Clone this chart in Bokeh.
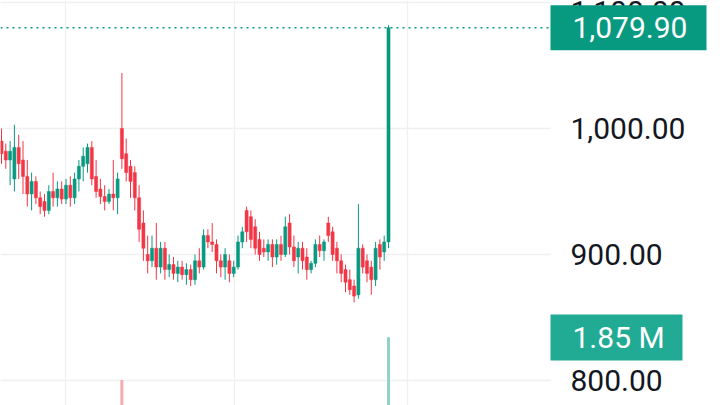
from bokeh.plotting import figure
from bokeh.models import Range1d, FixedTicker, NumeralTickFormatter, Span, BoxAnnotation
from bokeh.core.properties import value
from bokeh.embed import file_html
from bokeh.resources import INLINE

# ---- data ----
opens = [990, 982, 975, 960, 985, 975, 962, 948, 958, 945, 942, 935, 950, 945, 952, 944,
         955, 945, 960, 970, 972, 985, 962, 952, 946, 942, 948, 945, 1000, 980, 970, 965,
         945, 925, 900, 895, 905, 890, 905, 888, 892, 885, 890, 884, 888, 880, 895, 890,
         915, 910, 908, 895, 890, 895, 885, 890, 910, 935, 930, 922, 912, 905, 902, 908,
         898, 908, 900, 925, 906, 898, 905, 898, 888, 893, 908, 903, 925, 918, 905, 895,
         888, 880, 875, 868, 905, 895, 890, 880, 908, 902, 910]
highs = [1000, 988, 990, 1003, 995, 990, 975, 965, 962, 950, 948, 955, 965, 958, 958, 960,
         962, 965, 975, 985, 988, 990, 975, 960, 955, 952, 975, 965, 1044, 992, 975, 970,
         955, 935, 915, 915, 925, 910, 910, 900, 898, 895, 895, 893, 892, 900, 905, 920,
         920, 925, 912, 900, 905, 900, 895, 915, 922, 938, 935, 928, 918, 912, 912, 912,
         912, 915, 930, 932, 915, 910, 910, 905, 895, 912, 915, 912, 930, 922, 910, 900,
         892, 888, 880, 940, 908, 900, 895, 910, 912, 915, 1082]
lows = [972, 968, 955, 950, 960, 948, 938, 935, 940, 932, 930, 932, 938, 938, 940, 940,
        938, 940, 950, 958, 965, 955, 945, 940, 935, 940, 935, 932, 968, 958, 945, 935,
        910, 895, 885, 890, 880, 885, 880, 882, 880, 878, 880, 876, 875, 876, 885, 888,
        905, 902, 885, 882, 880, 878, 882, 888, 905, 910, 905, 900, 895, 898, 895, 890,
        892, 895, 898, 900, 890, 885, 888, 880, 885, 890, 898, 895, 910, 895, 885, 878,
        870, 868, 862, 865, 885, 878, 868, 875, 888, 895, 905]
closes = [980, 975, 982, 985, 972, 962, 948, 958, 945, 938, 935, 950, 945, 952, 944, 955,
          945, 960, 970, 978, 985, 960, 950, 946, 942, 948, 945, 960, 976, 965, 958, 945,
          920, 905, 895, 905, 890, 905, 888, 892, 885, 890, 884, 888, 880, 895, 890, 915,
          910, 908, 895, 890, 900, 885, 890, 910, 918, 918, 912, 905, 900, 902, 908, 898,
          908, 900, 922, 906, 895, 905, 895, 888, 893, 908, 903, 910, 915, 900, 895, 885,
          878, 872, 867, 905, 890, 885, 880, 905, 898, 910, 1079.9]
volumes = [0.42, 0.35, 0.38, 0.45, 0.30, 0.33, 0.36, 0.31, 0.28, 0.34, 0.30, 0.29, 0.32, 0.27, 0.25, 0.30,
           0.28, 0.33, 0.36, 0.40, 0.38, 0.35, 0.30, 0.26, 0.24, 0.22, 0.31, 0.29, 1.08, 0.55, 0.48, 0.41,
           0.52, 0.47, 0.40, 0.36, 0.38, 0.33, 0.30, 0.27, 0.25, 0.24, 0.26, 0.23, 0.25, 0.28, 0.27, 0.32,
           0.30, 0.29, 0.27, 0.26, 0.28, 0.25, 0.24, 0.31, 0.35, 0.45, 0.38, 0.33, 0.30, 0.27, 0.26, 0.28,
           0.25, 0.27, 0.36, 0.33, 0.29, 0.28, 0.27, 0.26, 0.25, 0.30, 0.27, 0.26, 0.32, 0.30, 0.28, 0.31,
           0.33, 0.35, 0.38, 0.52, 0.34, 0.30, 0.31, 0.33, 0.29, 0.32, 1.85]
price_ticks = [800, 900, 1000, 1100]
grid_x = [14.9, 54.2, 94.4]
last_price = 1079.9
last_price_text = "1,079.90"
last_volume = 1.85e6
last_volume_text = "1.85 M"

UP = "#089981"
DOWN = "#F23645"
UP_VOL = "#8fd1c5"
DOWN_VOL = "#f7a9ae"
VOL_TAG = "#22ab94"
LABEL_COL = "#131722"
GRID = "#eef0f3"

n = len(closes)
xs = list(range(n))
is_up = [c >= o for o, c in zip(opens, closes)]
colors = [UP if u else DOWN for u in is_up]
vcolors = [UP_VOL if u else DOWN_VOL for u in is_up]
tops = [max(o, c) for o, c in zip(opens, closes)]
bots = [min(o, c) for o, c in zip(opens, closes)]
vols = [v * 1e6 for v in volumes]

BAR_PX = 4.3                 # pixels per bar
X0 = -0.233
X1 = X0 + 720 / BAR_PX       # visible bar-index range
PANE_EDGE = X0 + 550 / BAR_PX  # where the price-scale pane begins

p = figure(width=720, height=405, min_border=0,
           x_range=Range1d(X0, X1), y_range=Range1d(780.16, 1101.59),
           y_axis_location="right", output_backend="svg", toolbar_location=None)
p.outline_line_color = None
p.background_fill_color = "white"
p.border_fill_color = "white"
p.xaxis.visible = False

p.xgrid.ticker = FixedTicker(ticks=grid_x)
p.ygrid.ticker = FixedTicker(ticks=price_ticks)
p.xgrid.grid_line_color = GRID
p.ygrid.grid_line_color = GRID
p.xgrid.grid_line_width = 1.3
p.ygrid.grid_line_width = 1.3

ax = p.yaxis[0]
ax.fixed_location = PANE_EDGE
ax.ticker = FixedTicker(ticks=price_ticks)
ax.formatter = NumeralTickFormatter(format="0,0.00")
ax.axis_line_color = None
ax.major_tick_line_color = None
ax.minor_tick_line_color = None
ax.major_tick_out = 0
ax.major_tick_in = 0
ax.major_label_standoff = 20
ax.major_label_text_font = "Roboto"
ax.major_label_text_font_size = "30px"
ax.major_label_text_color = LABEL_COL

# last-price dotted line (covered by the price-scale pane on the right)
p.add_layout(Span(location=last_price, dimension="width", line_color=UP,
                  line_dash="2 4", line_width=1.5, level="underlay"))
p.add_layout(BoxAnnotation(left=PANE_EDGE, fill_color="white", fill_alpha=1.0,
                           line_color=None, level="underlay"))

# volume pane on its own scale
p.extra_y_ranges = {"vol": Range1d(0.629e6, 7.903e6)}
p.vbar(x=xs, top=vols, bottom=0, width=0.45, color=vcolors, y_range_name="vol")

# candles
p.segment(x0=xs, y0=lows, x1=xs, y1=highs, line_color=colors, line_width=1)
p.vbar(x=xs, top=tops, bottom=bots, width=0.72, fill_color=colors, line_color=colors, line_width=0.5)

# price / volume tags on the scale
tag_font = dict(text_color="white", text_font=value("Roboto"), text_font_size=value("30px"),
                text_baseline="middle", text_align="left", x_offset=22, level="overlay")
p.rect(x=[PANE_EDGE + 78 / BAR_PX], y=[last_price], width=156, height=45,
       width_units="screen", height_units="screen", fill_color=UP, line_color=None,
       level="overlay")
p.text(x=[PANE_EDGE], y=[last_price], text=[last_price_text], **tag_font)
p.rect(x=[PANE_EDGE + 66 / BAR_PX], y=[last_volume], width=132, height=46,
       width_units="screen", height_units="screen", fill_color=VOL_TAG, line_color=None,
       level="overlay", y_range_name="vol")
p.text(x=[PANE_EDGE], y=[last_volume], text=[last_volume_text], y_range_name="vol", **tag_font)

open("out.html", "w").write(file_html(p, INLINE))
